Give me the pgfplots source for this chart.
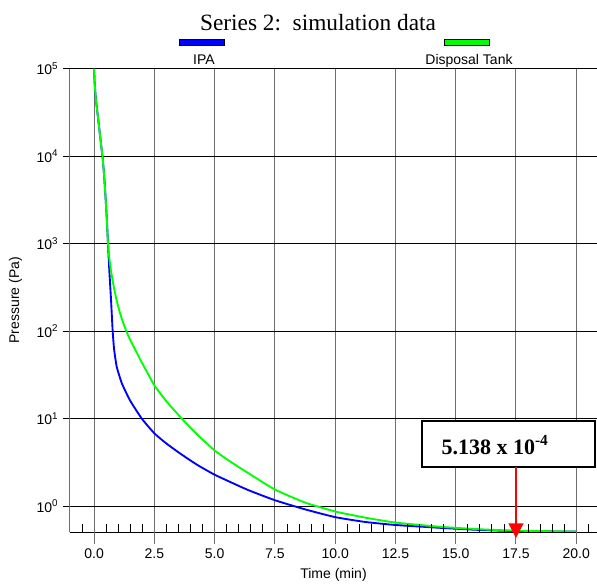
\documentclass[border=0pt]{standalone}
\usepackage{fontspec}
\setmainfont{Liberation Sans}
\newfontfamily\seriffont{Liberation Serif}
\usepackage{pgfplots}
\pgfplotsset{compat=1.18}
\usetikzlibrary{arrows.meta}
\definecolor{ipablue}{RGB}{0,0,255}
\definecolor{tankgreen}{RGB}{0,255,0}
\definecolor{gridgray}{RGB}{110,110,110}

% pressure (Pa) vs time (min)
\pgfplotstableread{
t p
0 100000
0.02 70000
0.07 45700
0.15 29500
0.22 20000
0.29 13500
0.35 9800
0.41 6300
0.47 3550
0.53 1860
0.576 1000
0.63 500
0.705 220
0.77 100
0.83 62
0.94 39
1.16 25
1.5 16
1.98 10
2.5 6.8
3.0 5.2
3.57 4.0
4.25 3.0
5.0 2.29
6.34 1.55
7.5 1.17
8.75 0.92
10 0.75
11.25 0.66
12.5 0.61
14.4 0.565
16 0.535
17.5 0.52
20 0.512
}\ipadata

\pgfplotstableread{
t p
0 100000
0.02 70000
0.07 45700
0.15 29500
0.22 20000
0.29 13500
0.35 9800
0.41 6300
0.47 3550
0.53 1860
0.576 1000
0.63 690
0.70 490
0.80 340
0.92 234
1.06 166
1.2 126
1.35 98
1.5 79
1.7 62
1.92 47
2.2 34
2.5 24
3.0 15.8
3.64 10
4.3 6.5
5.0 4.33
5.6 3.3
6.34 2.44
7.5 1.55
8.75 1.1
10 0.87
11.25 0.74
12.5 0.65
14.4 0.58
16 0.545
17.5 0.525
20 0.513
}\tankdata

\begin{document}
\begin{tikzpicture}
\begin{axis}[
    at={(52.5pt,-399pt)}, anchor=south west,
    width=395.25pt, height=347.5pt, scale only axis,
    xmin=-1, xmax=20.86,
    ymode=log, ymin=0.507, ymax=1e5,
    axis x line*=bottom, axis y line*=left,
    axis line style={-},
    x axis line style={black, line width=0.75pt},
    y axis line style={gridgray, line width=0.75pt},
    xtick={0,2.5,...,20},
    xticklabel style={/pgf/number format/.cd, fixed, fixed zerofill, precision=1},
    /pgf/number format/assume math mode=true,
    ytick={1,10,100,1000,10000,100000},
    yticklabels={10\textsuperscript{0},10\textsuperscript{1},10\textsuperscript{2},10\textsuperscript{3},10\textsuperscript{4},10\textsuperscript{5}},
    yminorticks=false, xminorticks=false,
    xmajorgrids, ymajorgrids,
    x grid style={gridgray, line width=0.75pt},
    y grid style={black, line width=0.6pt},
    tick align=outside, major tick length=9pt,
    xtick style={gridgray, line width=0.75pt},
    ytick style={black, line width=0.6pt, xshift=3.75pt},
    yticklabel style={xshift=3.75pt},
    tick label style={font=\fontsize{10.5}{12}\selectfont},
    label style={font=\fontsize{10.5}{12}\selectfont},
    xlabel={Time (min)},
    xlabel style={yshift=-0.5pt},
    ylabel={Pressure (Pa)},
    ylabel style={yshift=4pt},
]
\addplot[ipablue, line width=1.4pt, smooth, tension=0.3] table[x=t, y=p] {\ipadata};
\addplot[tankgreen, line width=1.4pt, smooth, tension=0.3] table[x=t, y=p] {\tankdata};
\end{axis}

% time-axis tick marks: half minutes point inward, majors reach below the axis
\begin{axis}[
    at={(52.5pt,-399pt)}, anchor=south west,
    width=395.25pt, height=347.5pt, scale only axis,
    xmin=-1, xmax=20.86,
    ymode=log, ymin=0.507, ymax=1e5,
    clip=false,
    hide y axis,
    axis x line*=bottom,
    axis line style={-, black, line width=0.75pt},
    xtick={-0.5,0.5,1,1.5,2,3,3.5,4,4.5,5.5,6,6.5,7,8,8.5,9,9.5,10.5,11,11.5,12,13,13.5,14,14.5,15.5,16,16.5,17,18,18.5,19,19.5,20.5},
    xticklabels={},
    xminorticks=false,
    tick align=inside, major tick length=6pt,
    xtick style={black, line width=0.6pt},
]
\pgfplotsinvokeforeach{0,2.5,5,7.5,10,12.5,15,17.5,20}{
    \draw[gridgray, line width=0.75pt] (axis cs:#1,0.507) -- ++(0pt,-9pt);
}
\end{axis}

\begin{scope}[x=0.75pt, y=-0.75pt]
\node[anchor=base, font=\seriffont\fontsize{17.5}{20}\selectfont] at (318,30.5) {Series 2:\ \ simulation data};
\draw[black, line width=0.5pt, fill=ipablue] (179.5,39) rectangle (224.5,45.5);
\node[anchor=base, font=\fontsize{10.5}{12}\selectfont] at (204,64.3) {IPA};
\draw[black, line width=0.5pt, fill=tankgreen] (444.5,39) rectangle (489.5,45.5);
\node[anchor=base, font=\fontsize{10.5}{12}\selectfont] at (469,64.3) {Disposal Tank};
\draw[black, line width=1.5pt, fill=white] (422,421) rectangle (595,467);
\node[anchor=base, font=\seriffont\bfseries\fontsize{16.5}{19}\selectfont] at (495,454) {5.138 x 10\textsuperscript{-4}};
\draw[red, line width=1.75pt, -{Triangle[width=11pt,length=11pt]}] (516,467) -- (516,538);
\pgfresetboundingbox
\path (0,0) rectangle (597,583);
\end{scope}
\end{tikzpicture}
\end{document}
